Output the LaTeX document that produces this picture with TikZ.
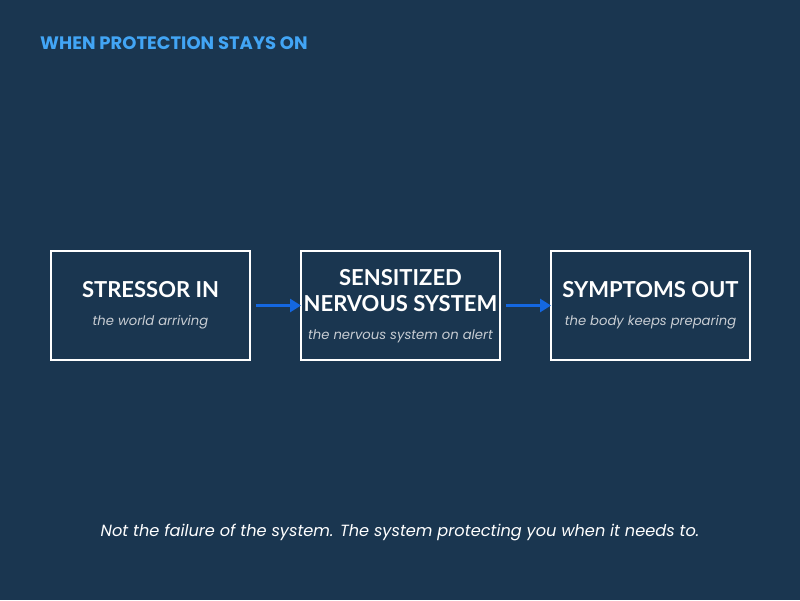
\documentclass[tikz,border=0pt]{standalone}
\usepackage{fontspec}
\setmainfont{Poppins}[BoldFont={Poppins Bold}, ItalicFont={Poppins Italic}]
\newfontfamily\latofont{Lato}
\usetikzlibrary{arrows.meta}
\definecolor{bgc}{HTML}{1A3650}
\definecolor{titlec}{HTML}{42A5F5}
\definecolor{subc}{HTML}{C8CDD3}
\definecolor{arrc}{HTML}{1467E0}
\tikzset{
  stagebox/.style={draw=white, line width=2pt, minimum width=199pt, minimum height=109pt, inner sep=0pt},
  headtxt/.style={text=white, font=\latofont\bfseries\fontsize{22}{25}\selectfont, align=center},
  subtxt/.style={text=subc, font=\itshape\fontsize{13.2}{15}\selectfont},
  flow/.style={draw=arrc, line width=3pt, -{Triangle[length=11pt,width=13pt]}, shorten >=-1pt}
}
\begin{document}
\begin{tikzpicture}[x=1pt,y=-1pt]
\fill[bgc] (0,0) rectangle (800,600);
\useasboundingbox (0,0) rectangle (800,600);
\node[anchor=base west, text=titlec, font=\bfseries\fontsize{18}{20}\selectfont, inner sep=0pt] (title) at (40,49) {WHEN PROTECTION STAYS ON};

\node[stagebox] (b1) at (150.5,305.5) {};
\node[stagebox] (b2) at (400.5,305.5) {};
\node[stagebox] (b3) at (650.5,305.5) {};

\node[headtxt] (h1) at (150.5,290) {STRESSOR IN};
\node[subtxt] (s1) at (150.5,322) {the world arriving};

\node[headtxt, inner sep=0pt] (h2a) at (400.5,278) {SENSITIZED};
\node[headtxt, inner sep=0pt] (h2b) at (400.5,303.5) {NERVOUS SYSTEM};
\node[subtxt] (s2) at (400.5,336) {the nervous system on alert};

\node[headtxt] (h3) at (650.5,290) {SYMPTOMS OUT};
\node[subtxt] (s3) at (650.5,322) {the body keeps preparing};

\draw[flow] ([xshift=5pt]b1.east) -- (b2.west);
\draw[flow] ([xshift=5pt]b2.east) -- (b3.west);

\node[text=white, font=\itshape\fontsize{16.2}{19}\selectfont] (foot) at (400,532) {Not the failure of the system. The system protecting you when it needs to.};
\end{tikzpicture}
\end{document}
